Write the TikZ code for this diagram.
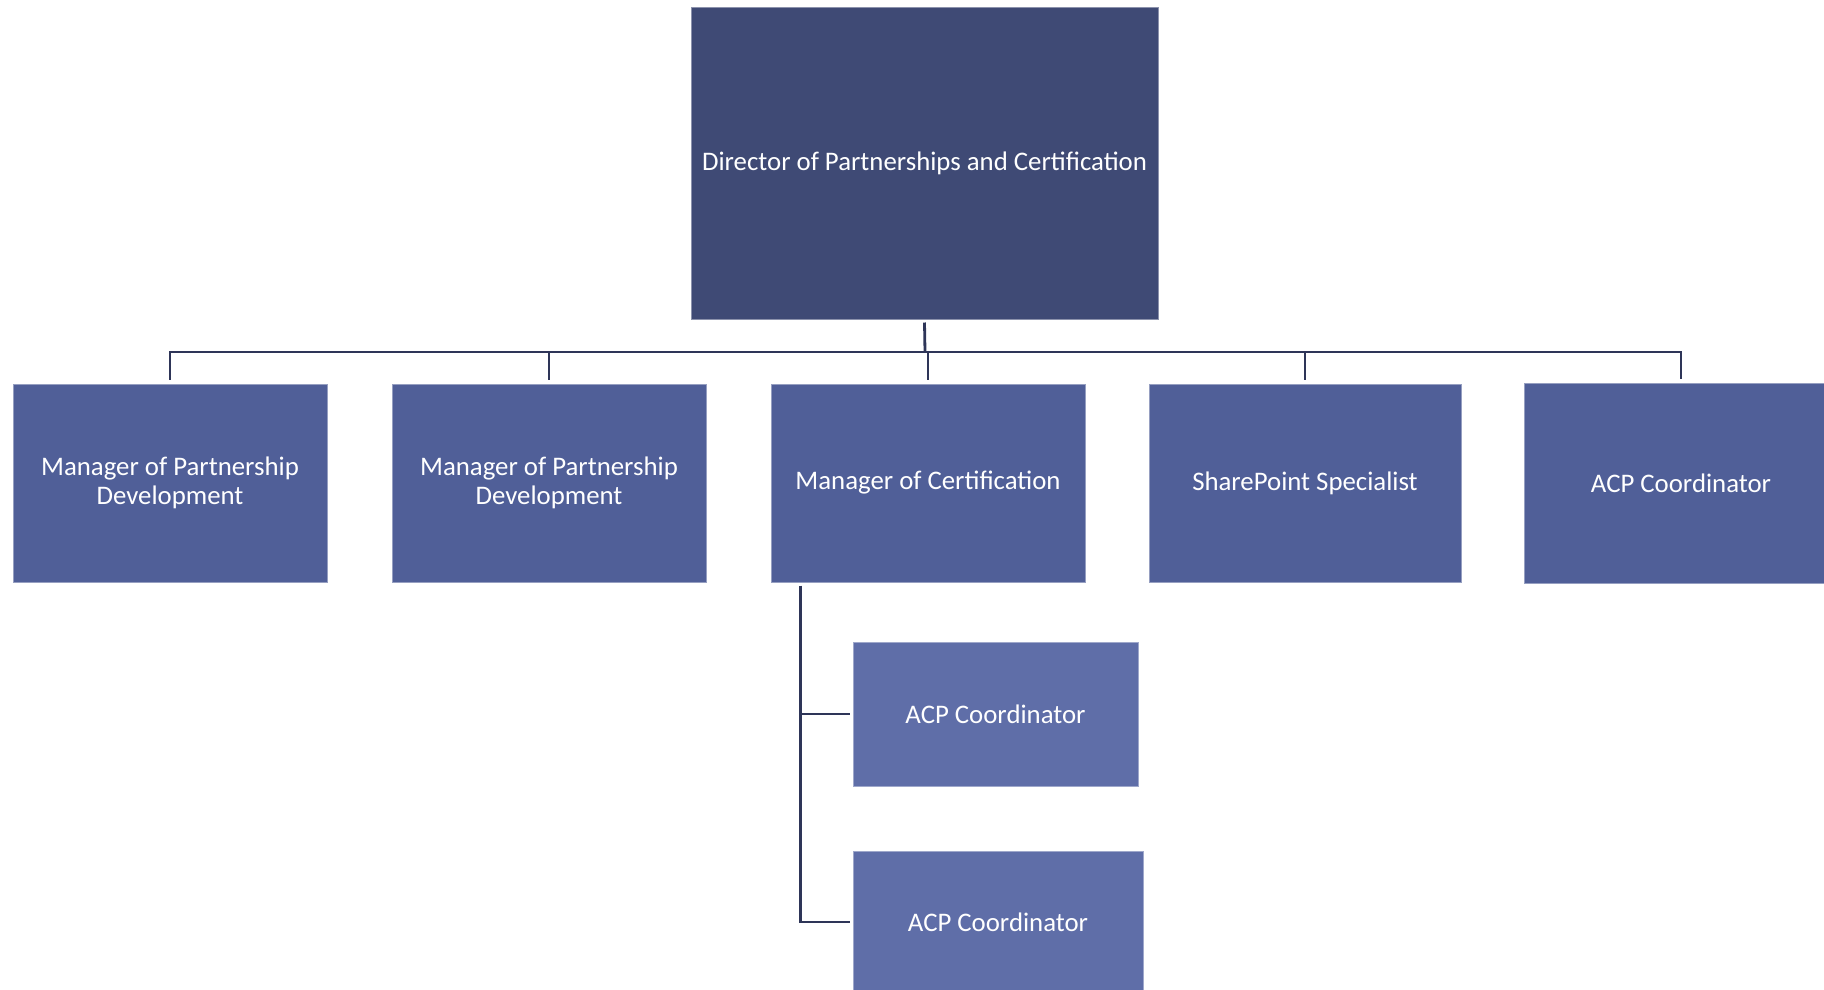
\documentclass[tikz,border=0pt]{standalone}
\usepackage{fontspec}
\setmainfont{Carlito}
\definecolor{dircol}{HTML}{3F4A75}
\definecolor{midcol}{HTML}{505F98}
\definecolor{subcol}{HTML}{5F6EA8}
\definecolor{linecol}{HTML}{2E3558}
\begin{document}
\begin{tikzpicture}[x=1pt,y=-1pt,
  box/.style={rectangle, inner sep=0pt, text=white, align=center,
    font=\fontsize{26.8}{29}\selectfont, line width=1pt},
  dirbox/.style={box, fill=dircol, draw=dircol!60!white, minimum width=467pt, minimum height=312pt},
  midbox/.style={box, fill=midcol, draw=midcol!60!white, minimum width=314pt, minimum height=198pt},
  subbox/.style={box, fill=subcol, draw=subcol!60!white},
  conn/.style={draw=linecol, line width=2.8pt}]
\clip (0,0) rectangle (1824,989);
\fill[white] (0,0) rectangle (1824,989);
\node[dirbox] (dir) at (924.5,163) {Director of Partnerships and Certification};
\node[midbox] (m1) at (170,483) {Manager of Partnership\\Development};
\node[midbox] (m2) at (549,483) {Manager of Partnership\\Development};
\node[midbox] (m3) at (928,483) {Manager of Certification};
\node[midbox, minimum width=312pt] (m4) at (1305,483) {SharePoint Specialist};
\node[midbox, minimum height=200pt] (m5) at (1681,483) {ACP Coordinator};
\node[subbox, minimum width=285pt, minimum height=144pt] (s1) at (995.5,714) {ACP Coordinator};
\node[subbox, minimum width=290pt, minimum height=142pt] (s2) at (998,922) {ACP Coordinator};
\coordinate (bus) at (925,352);
\draw[conn] ([yshift=-3pt]dir.south) -- (bus);
\draw[conn] ([yshift=4pt]m1.north) |- (bus) -| ([yshift=4pt]m5.north);
\draw[conn] ([yshift=4pt]m2.north) -- (m2.north |- bus);
\draw[conn] ([yshift=4pt]m3.north) -- (m3.north |- bus);
\draw[conn] ([yshift=4pt]m4.north) -- (m4.north |- bus);
\coordinate (v) at ([xshift=30pt,yshift=-3pt]m3.south west);
\draw[conn] (v) |- ([xshift=-3pt]s2.west);
\draw[conn] (v |- s1.west) -- ([xshift=-3pt]s1.west);
\end{tikzpicture}
\end{document}
